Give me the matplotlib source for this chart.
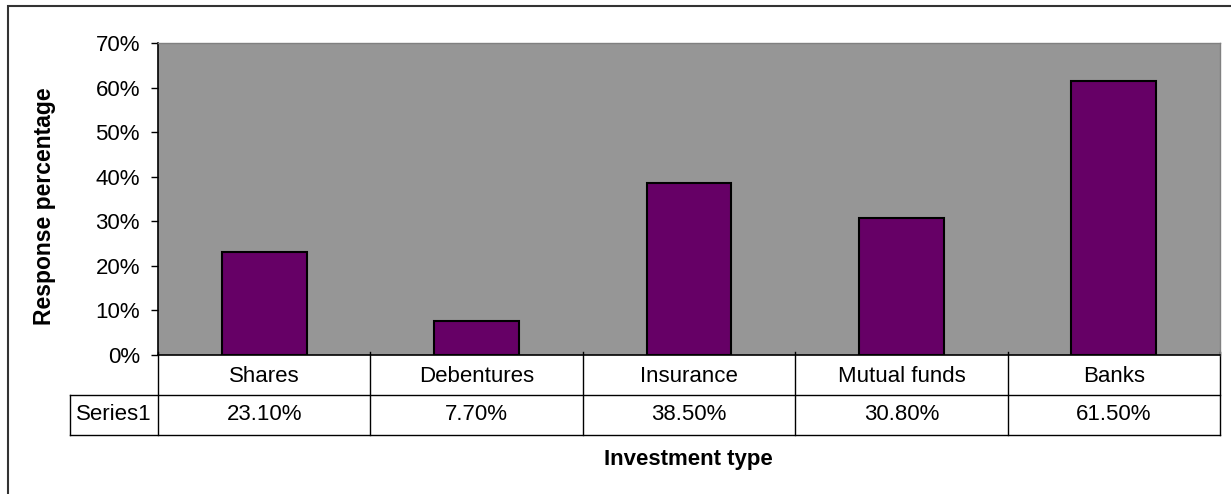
import matplotlib.pyplot as plt
from matplotlib.patches import Rectangle
from matplotlib.transforms import blended_transform_factory
import numpy as np

categories = ["Shares", "Debentures", "Insurance", "Mutual funds", "Banks"]
values = [23.1, 7.7, 38.5, 30.8, 61.5]
value_labels = ["23.10%", "7.70%", "38.50%", "30.80%", "61.50%"]
series_name = "Series1"
yticks = [0, 10, 20, 30, 40, 50, 60, 70]

plt.rcParams['font.family'] = ['Liberation Sans', 'DejaVu Sans']

W, H = 1231, 494
fig = plt.figure(figsize=(W/100, H/100), dpi=100)
L, R, T, B = 158, 1220, 43, 355
ax = fig.add_axes([L/W, 1-B/H, (R-L)/W, (B-T)/H])
ax.set_facecolor('#969696')

fs = 16
x = np.arange(len(categories))
ax.bar(x, values, width=0.4, color='#660066', edgecolor='black', linewidth=1.5, zorder=3)
ax.set_xlim(-0.5, len(categories)-0.5)
ax.set_ylim(0, 70)
ax.set_yticks(yticks)
ax.set_yticklabels([f"{v}%" for v in yticks], fontsize=fs)
ax.tick_params(axis='y', direction='out', length=5, width=1, pad=8)
ax.set_xticks([])
for s in ['top', 'right']:
    ax.spines[s].set_color('#808080')
    ax.spines[s].set_linewidth(1)
for s in ['left', 'bottom']:
    ax.spines[s].set_color('black')
    ax.spines[s].set_linewidth(1.2)

# data table beneath the axis
trans = blended_transform_factory(ax.transData, ax.transAxes)
ph = B - T
y1 = -(395 - B) / ph
y2 = -(435 - B) / ph
unit = (R - L) / len(categories)
xs = -0.5 - 88 / unit
lk = dict(color='black', linewidth=1, transform=trans, clip_on=False)
for k in range(len(categories) + 1):
    ax.plot([k - 0.5, k - 0.5], [0.01, y2], **lk)
ax.plot([xs, len(categories) - 0.5], [y1, y1], **lk)
ax.plot([xs, len(categories) - 0.5], [y2, y2], **lk)
ax.plot([xs, xs], [y1, y2], **lk)
for i, (c, v) in enumerate(zip(categories, value_labels)):
    ax.text(i, y1/2 - 0.005, c, ha='center', va='center', fontsize=fs, transform=trans)
    ax.text(i, (y1+y2)/2, v, ha='center', va='center', fontsize=fs, transform=trans)
ax.text((xs - 0.5)/2, (y1+y2)/2, series_name, ha='center', va='center', fontsize=fs, transform=trans)

fig.text(688/W, 1-459/H, "Investment type", ha='center', va='center', fontsize=16, fontweight='bold')
fig.text(45/W, 1-206/H, "Response percentage", ha='center', va='center', rotation=90,
         fontsize=16.5, fontweight='bold')

# chart area border (only left/top visible)
fig.patches.append(Rectangle((8/W, -0.1), 1.1, 1.1 - 6/H, transform=fig.transFigure,
                             fill=False, edgecolor='#333333', linewidth=1.5))

fig.savefig('out.png', dpi=100)
